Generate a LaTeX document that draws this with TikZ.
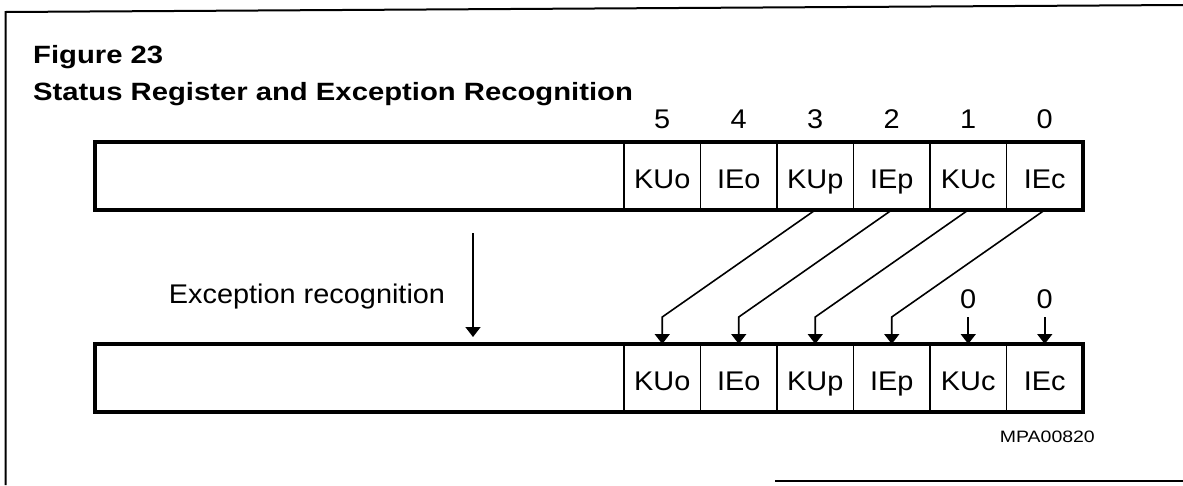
\documentclass[tikz,border=0pt]{standalone}
\usepackage{fontspec}
\setmainfont{Liberation Sans}
\newfontfamily\titlefont[FakeStretch=1.17]{Liberation Sans}
\newfontfamily\lblfont[FakeStretch=1.07]{Liberation Sans}
\newfontfamily\smallfont[FakeStretch=1.18]{Liberation Sans}
\usetikzlibrary{arrows.meta}
\begin{document}
\begin{tikzpicture}[x=1pt,y=-1pt,
  cell/.style={draw, line width=1.6pt, minimum width=76.5pt, minimum height=68pt,
    inner sep=0pt, outer sep=0pt, text height=24pt, text depth=0pt,
    font=\lblfont\fontsize{27}{32}\selectfont},
  blank/.style={minimum width=529pt, minimum height=68pt, inner sep=0pt, outer sep=0pt},
  regbox/.style={draw, line width=3.2pt},
  arr/.style={line width=1.6pt, -{Triangle[width=15pt,length=10pt]}},
  bitnum/.style={anchor=base, inner sep=0pt, font=\lblfont\fontsize{27}{32}\selectfont},
  ttl/.style={anchor=base west, inner sep=0pt, font=\titlefont\bfseries\fontsize{25}{30}\selectfont}]
\useasboundingbox (0,0) rectangle (1183,485);
% frame
\draw[line width=2pt] (1183,5) -- (5.5,12) -- (5.5,485);
\draw[line width=1.5pt] (775,481) -- (1183,481);
% title
\node[ttl] (fig) at (33,63) {Figure 23};
\node[ttl] (title) at (33,100) {Status Register and Exception Recognition};
% registers
\node[blank] (tblank) at (359.5,176) {};
\node[blank] (bblank) at (359.5,378) {};
\foreach \n/\lab/\x in {5/KUo/662.25, 4/IEo/738.75, 3/KUp/815.25, 2/IEp/891.75, 1/KUc/968.25, 0/IEc/1044.75} {
  \node[cell] (t\lab) at (\x,176) {\lab};
  \node[cell] (b\lab) at (\x,378) {\lab};
  \node[bitnum] (n\n) at (\x,128) {\n};
}
\draw[regbox] (tblank.north west) rectangle (tIEc.south east);
\draw[regbox] (bblank.north west) rectangle (bIEc.south east);
% shifted bits
\draw[arr] (tKUp.south) -- ([yshift=27pt]bKUo.north) -- (bKUo.north);
\draw[arr] (tIEp.south) -- ([yshift=27pt]bIEo.north) -- (bIEo.north);
\draw[arr] (tKUc.south) -- ([yshift=27pt]bKUp.north) -- (bKUp.north);
\draw[arr] (tIEc.south) -- ([yshift=27pt]bIEp.north) -- (bIEp.north);
% zeros
\node[bitnum] (z1) at (968.25,308) {0};
\node[bitnum] (z0) at (1044.75,308) {0};
\draw[arr] ([yshift=-9pt]z1.south) -- (bKUc.north);
\draw[arr] ([yshift=-9pt]z0.south) -- (bIEc.north);
% exception recognition
\node[bitnum] (exc) at (307,303) {Exception recognition};
\coordinate (e1) at (473,233);
\coordinate (e2) at (473,337);
\draw[arr] (e1) -- (e2);
% id
\node[anchor=base east, inner sep=0pt, font=\smallfont\fontsize{16.5}{20}\selectfont] (mpa) at (1095,442) {MPA00820};
\end{tikzpicture}
\end{document}
